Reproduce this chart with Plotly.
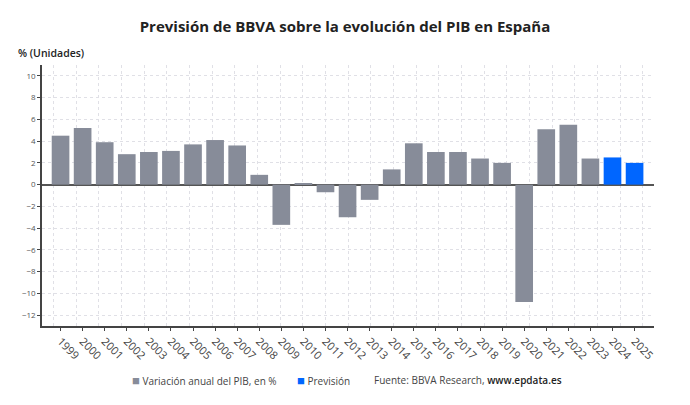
import plotly.graph_objects as go

years = list(range(1999, 2026))
pib = [4.5, 5.2, 3.9, 2.8, 3.0, 3.1, 3.7, 4.1, 3.6, 0.9, -3.7, 0.1, -0.7, -3.0, -1.4,
       1.4, 3.8, 3.0, 3.0, 2.4, 2.0, -10.8, 5.1, 5.5, 2.4]
prev_years = [2024, 2025]
prev = [2.5, 2.0]
y_ticks = list(range(-12, 11, 2))

GRAY = "#878c99"
BLUE = "#0066ff"
GRID = "#e0e0e6"
FONT = "Open Sans"

fig = go.Figure()
fig.add_trace(go.Bar(x=years[:len(pib)], y=pib, name="Variación anual del PIB, en %",
                     marker=dict(color=GRAY, line=dict(width=0)), width=0.8))
fig.add_trace(go.Bar(x=prev_years, y=prev, name="Previsión",
                     marker=dict(color=BLUE, line=dict(width=0)), width=0.8))
fig.add_trace(go.Scatter(x=[], y=[], xaxis="x2", showlegend=False, hoverinfo="skip"))

W, H = 690, 405
L, R, T, B = 42, 36, 65, 79
pw = W - L - R
ph = H - T - B


def px(x):
    return (x - L) / pw


def py(y):
    return (H - B - y) / ph


SQ = 'style="color:{};font-size:13px"'

fig.update_layout(
    width=W, height=H,
    margin=dict(l=L, r=R, t=T, b=B),
    paper_bgcolor="white", plot_bgcolor="white",
    font=dict(family=FONT, color="#444"),
    barmode="overlay",
    showlegend=False,
    title=dict(text="<b>Previsión de BBVA sobre la evolución del PIB en España</b>",
               x=0.5, xanchor="center", y=1 - 27 / H, yanchor="middle",
               yref="container", font=dict(family=FONT, size=15, color="#222")),
    xaxis=dict(range=[years[0] - 0.84, years[-1] + 0.88], tickmode="array",
               tickvals=years, ticktext=[str(y) for y in years], tickangle=45,
               showgrid=False, zeroline=False, showline=True, linecolor="#444",
               linewidth=1.5, ticks="outside", ticklen=3, tickcolor="#444",
               tickfont=dict(size=11, color="#444"), fixedrange=True, automargin=False),
    xaxis2=dict(range=[years[0] - 0.5, years[-1] + 0.5], overlaying="x", side="bottom",
                showticklabels=False, ticks="", dtick=1, tick0=years[0],
                showgrid=True, gridcolor=GRID, griddash="dot", gridwidth=1,
                zeroline=False, showline=False, automargin=False),
    yaxis=dict(range=[-13, 11], tickmode="array", tickvals=y_ticks,
               showgrid=True, gridcolor=GRID, griddash="dot", gridwidth=1,
               zeroline=True, zerolinecolor="#555", zerolinewidth=1.5,
               showline=True, linecolor="#444", linewidth=1.5,
               ticks="outside", ticklen=3, tickcolor="#444",
               tickfont=dict(size=8, color="#555"), fixedrange=True, automargin=False),
    annotations=[
        dict(text="% (Unidades)", xref="paper", yref="paper",
             x=px(16), xanchor="left", y=py(53), yanchor="middle",
             showarrow=False, font=dict(family=FONT, size=10.5, color="#222", weight=600)),
        dict(text=f'<span {SQ.format(GRAY)}>■</span> Variación anual del PIB, en %',
             xref="paper", yref="paper", x=px(130), xanchor="left", y=py(380), yanchor="middle",
             showarrow=False, font=dict(family=FONT, size=10, color="#444")),
        dict(text=f'<span {SQ.format(BLUE)}>■</span> Previsión',
             xref="paper", yref="paper", x=px(295), xanchor="left", y=py(380), yanchor="middle",
             showarrow=False, font=dict(family=FONT, size=10, color="#444")),
        dict(text='Fuente: BBVA Research, <span style="color:#222;font-weight:600">www.epdata.es</span>',
             xref="paper", yref="paper", x=px(372), xanchor="left", y=py(380), yanchor="middle",
             showarrow=False, font=dict(family=FONT, size=10, color="#444")),
    ],
)

fig.write_html("out.html", config={"displayModeBar": False},
               post_script="document.body.style.margin='0';")
